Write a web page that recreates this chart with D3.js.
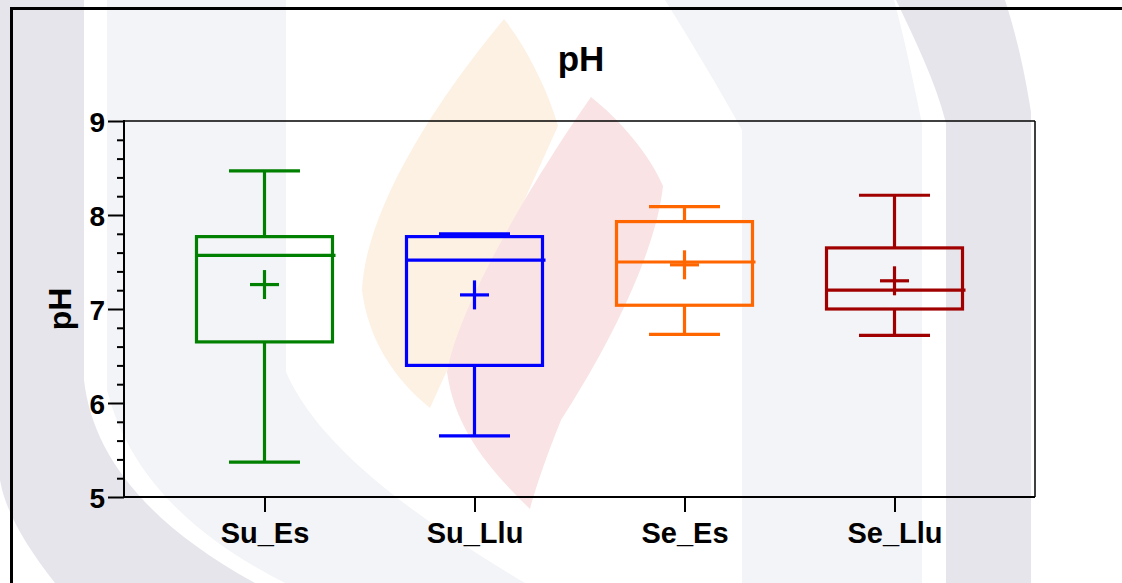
<!DOCTYPE html>
<html>
<head>
<meta charset="utf-8">
<script src="https://cdn.jsdelivr.net/npm/d3@7"></script>
<style>
  html, body { margin: 0; padding: 0; background: #ffffff; }
  svg { display: block; }
  text { font-family: "Liberation Sans", Arial, Helvetica, sans-serif; font-weight: bold; fill: #000; }
</style>
</head>
<body>
<svg id="chart" width="1122" height="583"></svg>
<script>
// ---- data ----
const categories = ["Su_Es", "Su_Llu", "Se_Es", "Se_Llu"];
const whiskerLow  = [5.37, 5.65, 6.73, 6.72];
const q1          = [6.65, 6.40, 7.04, 7.00];
const median      = [7.57, 7.52, 7.50, 7.20];
const q3          = [7.77, 7.77, 7.93, 7.65];
const whiskerHigh = [8.47, 7.80, 8.09, 8.21];
const means       = [7.26, 7.15, 7.47, 7.30];
const colors      = ["#008000", "#0000ff", "#ff6600", "#a00000"];
const yTicks      = [5, 6, 7, 8, 9];
const titleText   = "pH";
const yLabel      = "pH";

const svg = d3.select("#chart");

// ---- background watermark (decorative) ----
const bg = svg.append("g");
const wm = [
  { fill: "#e6e5eb", d: "M0,0 L84,0 L84,380 C92,450 140,520 255,583 L55,583 C25,545 5,510 0,480 Z" },
  { fill: "#f3f4f7", d: "M107,0 L286,0 L286,372 C320,450 420,520 525,583 L285,583 C200,540 130,480 107,390 Z" },
  { fill: "#f3f4f7", d: "M665,0 L894,0 C905,40 915,90 922,123 L922,583 L742,583 L742,130 C720,90 690,40 665,0 Z" },
  { fill: "#e6e5eb", d: "M896,0 L1005,0 C1018,40 1026,80 1031,112 L1031,583 L946,583 L946,123 C935,80 915,40 896,0 Z" },
  { fill: "#fdf1e4", d: "M504,19 C525,45 548,90 558,126 L430,408 C395,380 368,340 362,290 C365,220 420,120 504,19 Z" },
  { fill: "#f9e3e4", d: "M591,97 C620,120 650,155 663,186 C655,260 600,360 561,420 C545,460 535,490 530,509 C490,470 455,430 447,372 C460,300 540,170 591,97 Z" }
];
bg.selectAll("path").data(wm).join("path")
  .attr("d", d => d.d).attr("fill", d => d.fill);

// ---- outer frame ----
svg.append("line").attr("x1", 10).attr("x2", 1122).attr("y1", 8.5).attr("y2", 8.5)
  .attr("stroke", "#000").attr("stroke-width", 3);
svg.append("line").attr("x1", 11.5).attr("x2", 11.5).attr("y1", 7).attr("y2", 583)
  .attr("stroke", "#000").attr("stroke-width", 3);

// ---- scales ----
const pLeft = 124, pRight = 1035, pTop = 121, pBottom = 497;
const y = d3.scaleLinear().domain([5, 9]).range([pBottom, pTop]);
const x = d3.scalePoint().domain(categories).range([pLeft, pRight]).padding(0.669);

// ---- plot frame (top & right) ----
svg.append("line").attr("x1", pLeft).attr("x2", pRight).attr("y1", pTop).attr("y2", pTop)
  .attr("stroke", "#000").attr("stroke-width", 1.5);
svg.append("line").attr("x1", pRight).attr("x2", pRight).attr("y1", pTop).attr("y2", pBottom)
  .attr("stroke", "#000").attr("stroke-width", 1.5);

// ---- y axis ----
const minorVals = d3.range(5, 9.0001, 0.2).filter(v => Math.abs(v - Math.round(v)) > 1e-6);
const yMinor = svg.append("g").attr("transform", `translate(${pLeft},0)`)
  .call(d3.axisLeft(y).tickValues(minorVals).tickSize(7).tickFormat(""));
yMinor.select(".domain").remove();
yMinor.selectAll(".tick line").attr("stroke", "#000").attr("stroke-width", 2);

const yMajor = svg.append("g").attr("transform", `translate(${pLeft},0)`)
  .call(d3.axisLeft(y).tickValues(yTicks).tickSize(16).tickPadding(3).tickFormat(d3.format("d")));
yMajor.select(".domain").remove();
yMajor.selectAll(".tick line").attr("stroke", "#000").attr("stroke-width", 2);
yMajor.selectAll(".tick text").attr("font-size", 28).attr("dy", "0.36em")
  .style("font-family", '"Liberation Sans", Arial, sans-serif').style("font-weight", "bold");
svg.append("line").attr("x1", pLeft).attr("x2", pLeft).attr("y1", pTop - 1).attr("y2", pBottom + 1)
  .attr("stroke", "#000").attr("stroke-width", 2);

// ---- x axis ----
const xAxis = svg.append("g").attr("transform", `translate(0,${pBottom})`)
  .call(d3.axisBottom(x).tickSize(15).tickPadding(10));
xAxis.select(".domain").remove();
xAxis.selectAll(".tick line").attr("stroke", "#000").attr("stroke-width", 2);
xAxis.selectAll(".tick text").attr("font-size", 29).attr("dy", "0.71em")
  .style("font-family", '"Liberation Sans", Arial, sans-serif').style("font-weight", "bold");
svg.append("line").attr("x1", pLeft).attr("x2", pRight).attr("y1", pBottom).attr("y2", pBottom)
  .attr("stroke", "#000").attr("stroke-width", 2);

// ---- boxes ----
const boxHalf = 68, capHalf = 35.5, plusHalf = 14.5, sw = 3.2;
const data = categories.map((c, i) => ({
  c, lo: whiskerLow[i], q1: q1[i], med: median[i], q3: q3[i], hi: whiskerHigh[i], mean: means[i], col: colors[i]
}));
const g = svg.append("g").selectAll("g").data(data).join("g");
g.each(function(d) {
  const s = d3.select(this);
  const cx = x(d.c);
  const line = (x1, y1, x2, y2) => s.append("line")
    .attr("x1", x1).attr("y1", y1).attr("x2", x2).attr("y2", y2)
    .attr("stroke", d.col).attr("stroke-width", sw);
  // whiskers
  line(cx, y(d.hi), cx, y(d.q3));
  line(cx, y(d.q1), cx, y(d.lo));
  line(cx - capHalf, y(d.hi), cx + capHalf, y(d.hi));
  line(cx - capHalf, y(d.lo), cx + capHalf, y(d.lo));
  // box
  s.append("rect")
    .attr("x", cx - boxHalf).attr("y", y(d.q3))
    .attr("width", boxHalf * 2).attr("height", y(d.q1) - y(d.q3))
    .attr("fill", "none").attr("stroke", d.col).attr("stroke-width", sw);
  // median
  line(cx - boxHalf - 1.5, y(d.med), cx + boxHalf + 3, y(d.med));
  // mean plus
  line(cx - plusHalf, y(d.mean), cx + plusHalf, y(d.mean));
  line(cx, y(d.mean) - plusHalf, cx, y(d.mean) + plusHalf);
});

// ---- titles ----
svg.append("text").attr("x", 581).attr("y", 71).attr("text-anchor", "middle")
  .attr("font-size", 35).text(titleText);
svg.append("text").attr("transform", `translate(71,${(pTop + pBottom) / 2}) rotate(-90)`)
  .attr("text-anchor", "middle").attr("font-size", 32).text(yLabel);
</script>
</body>
</html>
